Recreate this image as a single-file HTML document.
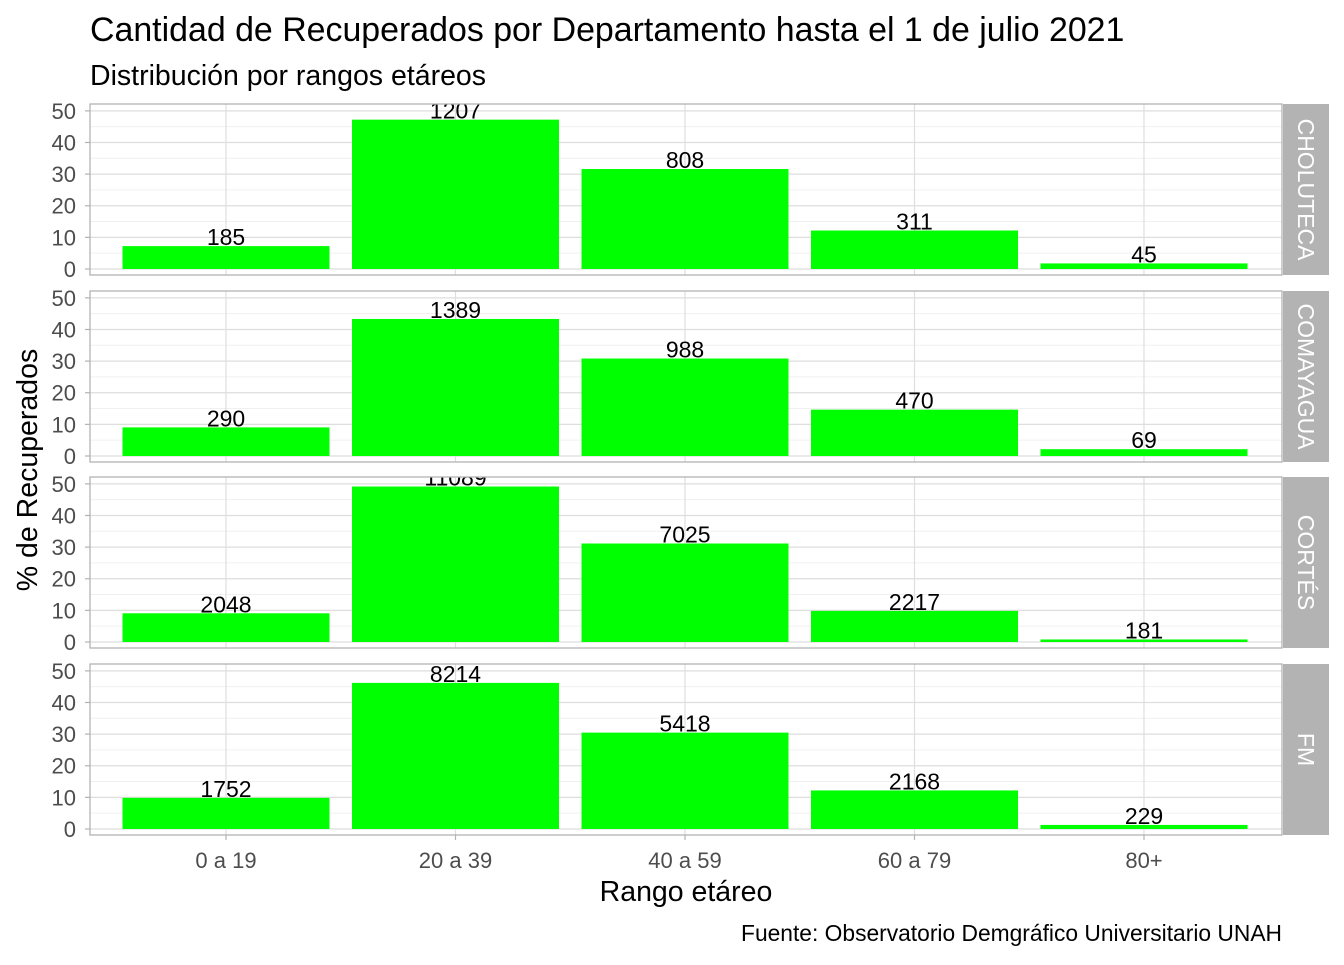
<!DOCTYPE html>
<html><head><meta charset="utf-8"><style>
body{margin:0;background:#fff;}
svg text{font-family:"Liberation Sans",Arial,sans-serif;}
</style></head><body>
<svg id="chart" width="1344" height="960" xmlns="http://www.w3.org/2000/svg">
<text x="90" y="41" font-size="33.9" fill="#000">Cantidad de Recuperados por Departamento hasta el 1 de julio 2021</text>
<text x="90" y="85" font-size="28.5" fill="#000">Distribución por rangos etáreos</text>
<text transform="translate(37,470) rotate(-90)" text-anchor="middle" font-size="28.5" fill="#000">% de Recuperados</text>
<text x="686" y="901" text-anchor="middle" font-size="28.5" fill="#000">Rango etáreo</text>
<text x="1282" y="941" text-anchor="end" font-size="22.8" fill="#000">Fuente: Observatorio Demgráfico Universitario UNAH</text>
<g id="panels"></g>
</svg>
<script>
const categories = ["0 a 19","20 a 39","40 a 59","60 a 79","80+"];
const departments = ["CHOLUTECA","COMAYAGUA","CORTÉS","FM"];
const cholutecaCounts = [185,1207,808,311,45];
const comayaguaCounts = [290,1389,988,470,69];
const cortesCounts = [2048,11089,7025,2217,181];
const fmCounts = [1752,8214,5418,2168,229];
const yTicks = [0,10,20,30,40,50];
const seriesCounts = [cholutecaCounts, comayaguaCounts, cortesCounts, fmCounts];

const NS = "http://www.w3.org/2000/svg";
const g = document.getElementById("panels");
const left = 90, right = 1282, stripW = 46;
const panelTops = [104, 291, 477, 664], panelH = 171;
const ppu = 3.163;
function xCenter(i){ return 226 + i*229.5; }
function mk(tag, attrs, parent){ const e=document.createElementNS(NS,tag); for(const k in attrs) e.setAttribute(k,attrs[k]); (parent||g).appendChild(e); return e; }

seriesCounts.forEach((counts, p) => {
  const top = panelTops[p], bottom = top + panelH, zeroY = bottom - 6;
  const yScale = v => zeroY - v*ppu;
  const total = counts.reduce((a,b)=>a+b,0);
  const pg = mk("g", {});
  
  
  const cp = mk("clipPath", {id:"clip"+p}, pg);
  mk("rect", {x:left, y:top, width:right-left, height:panelH}, cp);
  for (let v=5; v<=55; v+=10){ const y=yScale(v); if(y>top) mk("line",{x1:left,x2:right,y1:y,y2:y,stroke:"#f0f0f0","stroke-width":1}, pg); }
  yTicks.forEach(v => {
    const y = yScale(v);
    const gl = mk("line",{x1:left,x2:right,y1:y,y2:y,stroke:"#dedede","stroke-width":1.2}, pg);
    
    
    mk("line",{x1:left-5,x2:left,y1:y,y2:y,stroke:"#b3b3b3","stroke-width":1.2}, pg);
    const t = mk("text",{x:left-14,y:y+8,"text-anchor":"end","font-size":22,fill:"#4d4d4d"}, pg);
    t.textContent = v;
    
    
  });
  categories.forEach((c,i) => {
    const cx = xCenter(i);
    mk("line",{x1:cx,x2:cx,y1:top,y2:bottom,stroke:"#dedede","stroke-width":1.2}, pg);
  });
  const bg = mk("g", {"clip-path":"url(#clip"+p+")"}, pg);
  const bw = 207;
  counts.forEach((n,i) => {
    const pct = n/total*100;
    const cx = xCenter(i);
    const r = mk("rect",{x:cx-bw/2,y:yScale(pct),width:bw,height:pct*ppu,fill:"#00ff00"}, bg);
    
    
    const t = mk("text",{x:cx,y:yScale(pct)-1,"text-anchor":"middle","font-size":23,fill:"#000"}, bg);
    t.textContent = n;
    
    
  });
  mk("rect",{x:left,y:top,width:right-left,height:panelH,fill:"none",stroke:"#b3b3b3","stroke-width":1.3}, pg);
  const s = mk("rect",{x:right+1,y:top,width:stripW,height:panelH,fill:"#b3b3b3"}, pg);
  
  
  const st = mk("text",{transform:"translate("+(right+1+stripW/2-8)+","+(top+panelH/2)+") rotate(90)","text-anchor":"middle","font-size":23,fill:"#fff"}, pg);
  st.textContent = departments[p];
  
  
  if (p === seriesCounts.length-1){
    categories.forEach((c,i) => {
      const cx = xCenter(i);
      mk("line",{x1:cx,x2:cx,y1:bottom,y2:bottom+5,stroke:"#b3b3b3","stroke-width":1.2}, pg);
      const t = mk("text",{x:cx,y:bottom+33,"text-anchor":"middle","font-size":22,fill:"#4d4d4d"}, pg);
      t.textContent = c;
      
      
    });
  }
});
</script>
</body></html>
